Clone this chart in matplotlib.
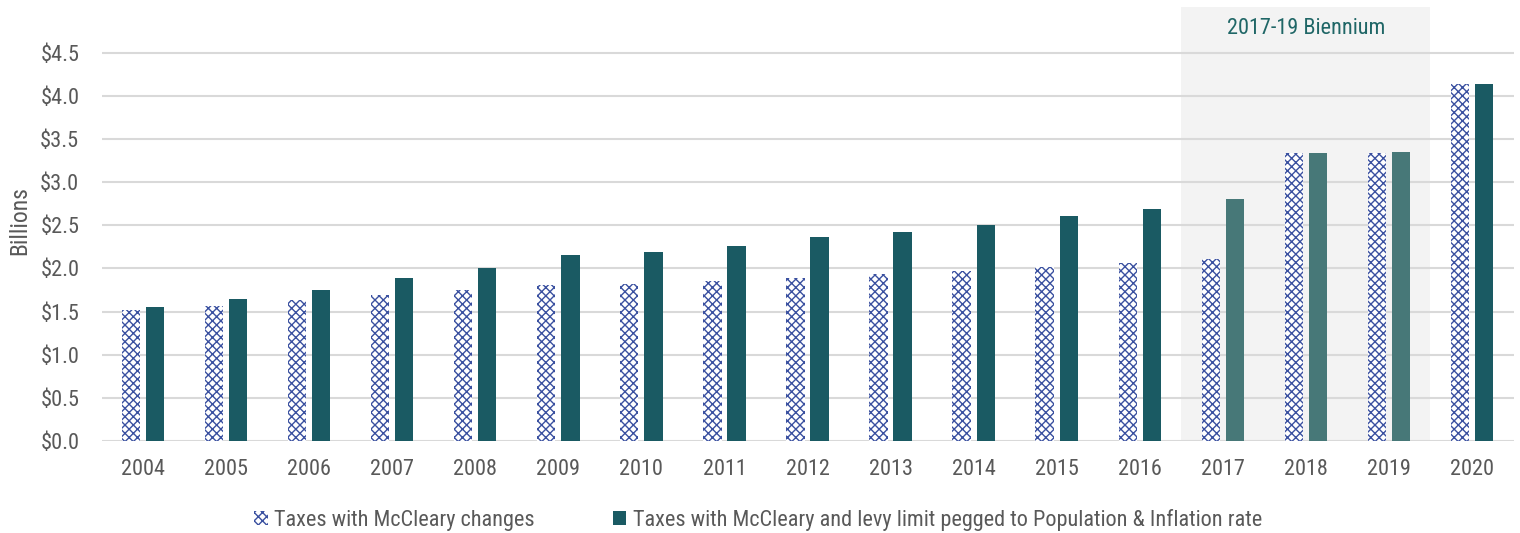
import matplotlib
matplotlib.use("Agg")
import matplotlib.pyplot as plt
from matplotlib import font_manager
from matplotlib.patches import Patch
import numpy as np

years = ["2004", "2005", "2006", "2007", "2008", "2009", "2010", "2011", "2012",
         "2013", "2014", "2015", "2016", "2017", "2018", "2019", "2020"]
mccleary = [1.52, 1.57, 1.63, 1.69, 1.75, 1.81, 1.82, 1.86, 1.89,
            1.93, 1.97, 2.02, 2.06, 2.11, 3.34, 3.34, 4.14]
pegged = [1.55, 1.64, 1.75, 1.89, 2.00, 2.16, 2.19, 2.26, 2.36,
          2.42, 2.50, 2.61, 2.69, 2.80, 3.34, 3.35, 4.14]
yticks = [0.0, 0.5, 1.0, 1.5, 2.0, 2.5, 3.0, 3.5, 4.0, 4.5]
biennium_years = ["2017", "2018", "2019"]
series_labels = ["Taxes with McCleary changes",
                 "Taxes with McCleary and levy limit pegged to Population & Inflation rate"]

names = {f.name for f in font_manager.fontManager.ttflist}
for fam in ["Liberation Sans Narrow", "Roboto Condensed", "Roboto", "DejaVu Sans"]:
    if fam in names:
        plt.rcParams['font.family'] = [fam, 'DejaVu Sans']
        break

gray = "#595959"
teal = "#1a5a63"
teal_light = "#477878"
blue = "#3a50a0"

fig = plt.figure(figsize=(15.2, 5.33), dpi=100)
ax = fig.add_axes([101.5 / 1520, 1 - 441 / 533, (1513.5 - 101.5) / 1520, (441 - 7) / 533])

x = np.arange(len(years))
w = 0.22
off = 0.145

# biennium shading
bi = [years.index(y) for y in biennium_years]
ax.axvspan(min(bi) - 0.5, max(bi) + 0.5, ymin=0, ymax=1, color="#f3f3f3", zorder=0, lw=0)

for t in yticks:
    ax.axhline(t, color="#d9d9d9", lw=1.5, zorder=1)

plt.rcParams['hatch.linewidth'] = 1.0
plt.rcParams['hatch.color'] = blue
ax.bar(x - off, mccleary, width=w, facecolor="white", edgecolor=blue, hatch="xxxx",
       lw=0, zorder=2)
cols = [teal_light if y in biennium_years else teal for y in years]
ax.bar(x + off, pegged, width=w, color=cols, zorder=2)

ax.set_xlim(-0.5, len(years) - 0.5)
ax.set_ylim(0, 5.03)
ax.set_yticks(yticks)
ax.set_yticklabels([f"${t:.1f}" for t in yticks])
ax.set_xticks(x)
ax.set_xticklabels(years)
ax.tick_params(length=0, labelsize=16, colors=gray)
ax.tick_params(axis="x", pad=13)
ax.tick_params(axis="y", pad=16)
for s in ax.spines.values():
    s.set_visible(False)
ax.set_ylabel("Billions", fontsize=17, color=gray)
ax.yaxis.set_label_coords(-0.050, 0.509)

ax.text(np.mean(bi), 4.78, "2017-19 Biennium", ha="center", va="center",
        fontsize=16, color="#1f6666")

handles = [Patch(facecolor="white", edgecolor=blue, hatch="xxxx", lw=0),
           Patch(facecolor=teal, lw=0)]
fig.legend(handles, series_labels, loc="center", bbox_to_anchor=(758 / 1520, 1 - 520 / 533),
           ncol=2, frameon=False, fontsize=16, labelcolor=gray, handlelength=0.6,
           handleheight=0.6, handletextpad=0.3, columnspacing=3.5)

fig.savefig("out.png", dpi=100)
